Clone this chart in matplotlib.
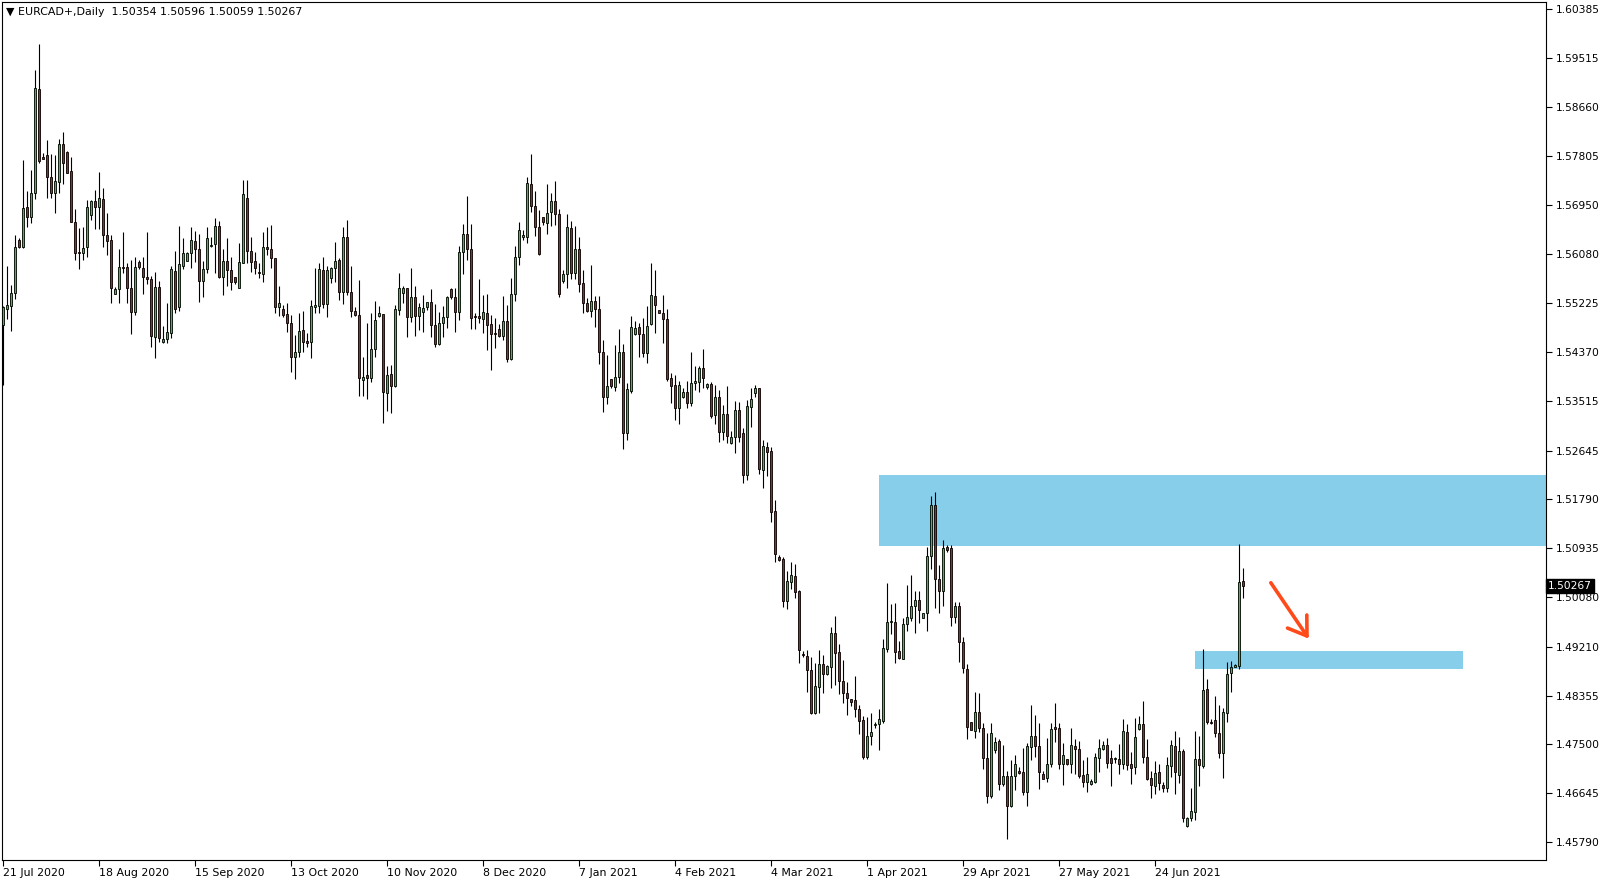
import matplotlib
matplotlib.use('Agg')
import matplotlib.pyplot as plt
from matplotlib.patches import Rectangle
import matplotlib.transforms as mtransforms

# daily EURCAD candles, 21 Jul 2020 -> early Jul 2021
opens = [
    1.5484, 1.5512, 1.5518, 1.5540, 1.5633, 1.5621, 1.5691, 1.5673, 1.5716, 1.5898,
    1.5778, 1.5782, 1.5743, 1.5716, 1.5735, 1.5801, 1.5787, 1.5754, 1.5665, 1.5612,
    1.5610, 1.5621, 1.5677, 1.5701, 1.5691, 1.5705, 1.5642, 1.5633, 1.5539, 1.5547,
    1.5586, 1.5586, 1.5549, 1.5507, 1.5595, 1.5584, 1.5568, 1.5565, 1.5463, 1.5551,
    1.5455, 1.5460, 1.5470, 1.5579, 1.5516, 1.5588, 1.5596, 1.5610, 1.5631, 1.5617,
    1.5561, 1.5582, 1.5623, 1.5626, 1.5658, 1.5568, 1.5596, 1.5581, 1.5568, 1.5549,
    1.5593, 1.5707, 1.5614, 1.5596, 1.5577, 1.5574, 1.5621, 1.5617, 1.5602, 1.5516,
    1.5512, 1.5504, 1.5488, 1.5428, 1.5437, 1.5476, 1.5456, 1.5455, 1.5516, 1.5518,
    1.5581, 1.5521, 1.5567, 1.5584, 1.5598, 1.5542, 1.5638, 1.5542, 1.5509, 1.5502,
    1.5388, 1.5397, 1.5392, 1.5442, 1.5500, 1.5504, 1.5365, 1.5399, 1.5378, 1.5511,
    1.5540, 1.5549, 1.5498, 1.5533, 1.5500, 1.5507, 1.5516, 1.5525, 1.5484, 1.5451,
    1.5488, 1.5498, 1.5547, 1.5533, 1.5507, 1.5612, 1.5644, 1.5617, 1.5500, 1.5500,
    1.5495, 1.5505, 1.5486, 1.5470, 1.5477, 1.5465, 1.5491, 1.5425, 1.5539, 1.5603,
    1.5638, 1.5638, 1.5731, 1.5693, 1.5656, 1.5673, 1.5663, 1.5682, 1.5701, 1.5679,
    1.5561, 1.5574, 1.5654, 1.5575, 1.5617, 1.5558, 1.5523, 1.5509, 1.5526, 1.5512,
    1.5437, 1.5358, 1.5390, 1.5376, 1.5393, 1.5437, 1.5295, 1.5369, 1.5469, 1.5481,
    1.5469, 1.5435, 1.5486, 1.5535, 1.5511, 1.5505, 1.5495, 1.5392, 1.5379, 1.5339,
    1.5358, 1.5367, 1.5348, 1.5383, 1.5385, 1.5409, 1.5376, 1.5381, 1.5327, 1.5358,
    1.5297, 1.5328, 1.5278, 1.5288, 1.5335, 1.5295, 1.5222, 1.5341, 1.5365, 1.5374,
    1.5230, 1.5271, 1.5264, 1.5159, 1.5078, 1.5075, 1.5001, 1.5034, 1.5045, 1.5019,
    1.4908, 1.4905, 1.4880, 1.4805, 1.4850, 1.4891, 1.4873, 1.4885, 1.4945, 1.4912,
    1.4861, 1.4840, 1.4829, 1.4828, 1.4812, 1.4793, 1.4728, 1.4765, 1.4784, 1.4786,
    1.4791, 1.4917, 1.4964, 1.4964, 1.4913, 1.4900, 1.4961, 1.4971, 1.4992, 1.5003,
    1.4971, 1.4980, 1.5080, 1.5169, 1.5040, 1.5019, 1.5096, 1.5094, 1.4973, 1.4992,
    1.4929, 1.4882, 1.4789, 1.4773, 1.4807, 1.4779, 1.4726, 1.4660, 1.4740, 1.4756,
    1.4681, 1.4695, 1.4642, 1.4695, 1.4703, 1.4702, 1.4667, 1.4745, 1.4765, 1.4747,
    1.4698, 1.4691, 1.4716, 1.4780, 1.4779, 1.4716, 1.4724, 1.4716, 1.4747, 1.4742,
    1.4696, 1.4684, 1.4681, 1.4684, 1.4726, 1.4742, 1.4749, 1.4726, 1.4724, 1.4724,
    1.4716, 1.4772, 1.4716, 1.4710, 1.4777, 1.4786, 1.4728, 1.4691, 1.4677, 1.4702,
    1.4679, 1.4674, 1.4712, 1.4747, 1.4696, 1.4738, 1.4607, 1.4621, 1.4632, 1.4724,
    1.4712, 1.4847, 1.4789, 1.4793, 1.4770, 1.4735, 1.4805, 1.4875, 1.4885, 1.4888,
    1.50354,
]
highs = [
    1.5518, 1.5588, 1.5554, 1.5642, 1.5637, 1.5773, 1.5719, 1.5756, 1.5931, 1.5976,
    1.5786, 1.5808, 1.5784, 1.5782, 1.5810, 1.5822, 1.5789, 1.5778, 1.5687, 1.5654,
    1.5656, 1.5703, 1.5703, 1.5721, 1.5752, 1.5724, 1.5680, 1.5642, 1.5551, 1.5617,
    1.5647, 1.5593, 1.5598, 1.5603, 1.5598, 1.5603, 1.5647, 1.5570, 1.5577, 1.5561,
    1.5483, 1.5523, 1.5588, 1.5614, 1.5658, 1.5637, 1.5612, 1.5656, 1.5649, 1.5644,
    1.5596, 1.5656, 1.5638, 1.5672, 1.5666, 1.5617, 1.5637, 1.5603, 1.5568, 1.5628,
    1.5738, 1.5738, 1.5638, 1.5612, 1.5593, 1.5647, 1.5656, 1.5659, 1.5602, 1.5553,
    1.5519, 1.5523, 1.5502, 1.5467, 1.5505, 1.5509, 1.5470, 1.5528, 1.5584, 1.5593,
    1.5603, 1.5588, 1.5586, 1.5630, 1.5602, 1.5656, 1.5668, 1.5588, 1.5516, 1.5563,
    1.5428, 1.5488, 1.5505, 1.5526, 1.5518, 1.5504, 1.5413, 1.5414, 1.5519, 1.5575,
    1.5553, 1.5549, 1.5584, 1.5553, 1.5523, 1.5537, 1.5525, 1.5547, 1.5521, 1.5507,
    1.5518, 1.5535, 1.5549, 1.5549, 1.5623, 1.5661, 1.5710, 1.5661, 1.5505, 1.5565,
    1.5537, 1.5539, 1.5502, 1.5497, 1.5486, 1.5535, 1.5519, 1.5567, 1.5623, 1.5665,
    1.5651, 1.5743, 1.5784, 1.5719, 1.5686, 1.5673, 1.5731, 1.5716, 1.5737, 1.5687,
    1.5581, 1.5679, 1.5666, 1.5658, 1.5638, 1.5581, 1.5532, 1.5589, 1.5535, 1.5535,
    1.5458, 1.5432, 1.5390, 1.5449, 1.5477, 1.5451, 1.5383, 1.5500, 1.5491, 1.5488,
    1.5497, 1.5518, 1.5593, 1.5581, 1.5511, 1.5537, 1.5512, 1.5400, 1.5397, 1.5386,
    1.5374, 1.5386, 1.5437, 1.5413, 1.5413, 1.5442, 1.5383, 1.5385, 1.5379, 1.5370,
    1.5344, 1.5377, 1.5299, 1.5351, 1.5349, 1.5304, 1.5353, 1.5374, 1.5379, 1.5374,
    1.5283, 1.5280, 1.5271, 1.5178, 1.5082, 1.5078, 1.5054, 1.5069, 1.5066, 1.5020,
    1.4913, 1.4915, 1.4903, 1.4892, 1.4915, 1.4906, 1.4889, 1.4955, 1.4975, 1.4926,
    1.4898, 1.4859, 1.4829, 1.4870, 1.4819, 1.4800, 1.4798, 1.4805, 1.4789, 1.4812,
    1.4935, 1.5033, 1.4996, 1.4998, 1.4931, 1.4971, 1.5029, 1.5047, 1.5019, 1.5019,
    1.4980, 1.5096, 1.5185, 1.5192, 1.5064, 1.5108, 1.5099, 1.5099, 1.4999, 1.4999,
    1.4938, 1.4891, 1.4789, 1.4842, 1.4840, 1.4787, 1.4770, 1.4787, 1.4763, 1.4759,
    1.4749, 1.4703, 1.4723, 1.4731, 1.4710, 1.4744, 1.4752, 1.4819, 1.4801, 1.4787,
    1.4703, 1.4761, 1.4787, 1.4822, 1.4787, 1.4752, 1.4724, 1.4779, 1.4759, 1.4756,
    1.4723, 1.4728, 1.4689, 1.4735, 1.4759, 1.4756, 1.4761, 1.4740, 1.4728, 1.4751,
    1.4794, 1.4786, 1.4737, 1.4796, 1.4800, 1.4826, 1.4759, 1.4703, 1.4721, 1.4716,
    1.4684, 1.4728, 1.4758, 1.4773, 1.4763, 1.4742, 1.4623, 1.4674, 1.4773, 1.4765,
    1.4917, 1.4865, 1.4794, 1.4835, 1.4819, 1.4814, 1.4894, 1.4896, 1.4891, 1.5101,
    1.50596,
]
lows = [
    1.5379, 1.5495, 1.5474, 1.5530, 1.5619, 1.5619, 1.5656, 1.5663, 1.5705, 1.5768,
    1.5775, 1.5707, 1.5707, 1.5680, 1.5716, 1.5731, 1.5750, 1.5664, 1.5598, 1.5582,
    1.5598, 1.5603, 1.5668, 1.5652, 1.5652, 1.5621, 1.5607, 1.5523, 1.5538, 1.5523,
    1.5575, 1.5523, 1.5469, 1.5502, 1.5582, 1.5539, 1.5556, 1.5446, 1.5427, 1.5455,
    1.5453, 1.5453, 1.5462, 1.5505, 1.5509, 1.5582, 1.5596, 1.5584, 1.5595, 1.5525,
    1.5533, 1.5575, 1.5621, 1.5575, 1.5567, 1.5537, 1.5553, 1.5546, 1.5556, 1.5549,
    1.5593, 1.5593, 1.5577, 1.5574, 1.5567, 1.5560, 1.5607, 1.5584, 1.5505, 1.5500,
    1.5498, 1.5472, 1.5402, 1.5390, 1.5428, 1.5437, 1.5446, 1.5427, 1.5505, 1.5505,
    1.5514, 1.5498, 1.5558, 1.5560, 1.5528, 1.5521, 1.5537, 1.5498, 1.5500, 1.5360,
    1.5360, 1.5355, 1.5385, 1.5428, 1.5498, 1.5313, 1.5334, 1.5330, 1.5376, 1.5502,
    1.5523, 1.5463, 1.5490, 1.5465, 1.5476, 1.5472, 1.5511, 1.5463, 1.5446, 1.5449,
    1.5463, 1.5479, 1.5530, 1.5472, 1.5493, 1.5574, 1.5598, 1.5477, 1.5477, 1.5488,
    1.5470, 1.5441, 1.5406, 1.5444, 1.5463, 1.5458, 1.5420, 1.5423, 1.5526, 1.5589,
    1.5633, 1.5628, 1.5682, 1.5640, 1.5607, 1.5659, 1.5644, 1.5658, 1.5659, 1.5533,
    1.5558, 1.5549, 1.5565, 1.5565, 1.5542, 1.5505, 1.5507, 1.5498, 1.5481, 1.5416,
    1.5332, 1.5346, 1.5374, 1.5369, 1.5383, 1.5267, 1.5283, 1.5365, 1.5467, 1.5428,
    1.5428, 1.5418, 1.5484, 1.5470, 1.5505, 1.5453, 1.5386, 1.5348, 1.5318, 1.5311,
    1.5356, 1.5339, 1.5342, 1.5370, 1.5367, 1.5374, 1.5372, 1.5321, 1.5311, 1.5279,
    1.5283, 1.5278, 1.5276, 1.5260, 1.5279, 1.5208, 1.5213, 1.5306, 1.5358, 1.5223,
    1.5199, 1.5220, 1.5139, 1.5069, 1.5071, 1.4991, 1.4987, 1.5022, 1.5006, 1.4892,
    1.4903, 1.4842, 1.4803, 1.4803, 1.4805, 1.4840, 1.4871, 1.4849, 1.4854, 1.4838,
    1.4822, 1.4801, 1.4817, 1.4798, 1.4768, 1.4724, 1.4724, 1.4749, 1.4779, 1.4740,
    1.4787, 1.4912, 1.4943, 1.4892, 1.4900, 1.4899, 1.4949, 1.4966, 1.4945, 1.4963,
    1.4971, 1.4949, 1.5057, 1.4989, 1.4980, 1.4992, 1.5087, 1.4957, 1.4963, 1.4894,
    1.4875, 1.4759, 1.4775, 1.4761, 1.4772, 1.4707, 1.4647, 1.4656, 1.4735, 1.4670,
    1.4677, 1.4584, 1.4640, 1.4670, 1.4698, 1.4661, 1.4642, 1.4723, 1.4728, 1.4672,
    1.4689, 1.4684, 1.4710, 1.4754, 1.4707, 1.4679, 1.4714, 1.4700, 1.4698, 1.4691,
    1.4675, 1.4667, 1.4679, 1.4682, 1.4702, 1.4740, 1.4709, 1.4677, 1.4717, 1.4698,
    1.4707, 1.4705, 1.4681, 1.4698, 1.4775, 1.4717, 1.4688, 1.4656, 1.4663, 1.4670,
    1.4667, 1.4667, 1.4693, 1.4663, 1.4682, 1.4614, 1.4605, 1.4616, 1.4618, 1.4677,
    1.4709, 1.4786, 1.4786, 1.4763, 1.4726, 1.4691, 1.4789, 1.4842, 1.4885, 1.4882,
    1.50059,
]
closes = [
    1.5516, 1.5519, 1.5540, 1.5621, 1.5621, 1.5689, 1.5673, 1.5716, 1.5899, 1.5771,
    1.5775, 1.5743, 1.5716, 1.5736, 1.5801, 1.5768, 1.5750, 1.5665, 1.5610, 1.5610,
    1.5619, 1.5691, 1.5701, 1.5691, 1.5707, 1.5642, 1.5631, 1.5549, 1.5547, 1.5586,
    1.5584, 1.5549, 1.5507, 1.5586, 1.5586, 1.5568, 1.5565, 1.5465, 1.5551, 1.5462,
    1.5460, 1.5472, 1.5582, 1.5512, 1.5591, 1.5610, 1.5610, 1.5633, 1.5617, 1.5561,
    1.5582, 1.5637, 1.5624, 1.5658, 1.5568, 1.5596, 1.5581, 1.5560, 1.5560, 1.5595,
    1.5714, 1.5614, 1.5595, 1.5584, 1.5575, 1.5621, 1.5617, 1.5602, 1.5516, 1.5523,
    1.5502, 1.5488, 1.5428, 1.5437, 1.5474, 1.5455, 1.5453, 1.5518, 1.5519, 1.5582,
    1.5521, 1.5581, 1.5584, 1.5596, 1.5542, 1.5638, 1.5542, 1.5509, 1.5502, 1.5392,
    1.5393, 1.5392, 1.5442, 1.5493, 1.5505, 1.5367, 1.5397, 1.5378, 1.5512, 1.5549,
    1.5549, 1.5498, 1.5533, 1.5500, 1.5516, 1.5514, 1.5525, 1.5484, 1.5451, 1.5488,
    1.5498, 1.5533, 1.5533, 1.5507, 1.5612, 1.5644, 1.5617, 1.5497, 1.5498, 1.5497,
    1.5507, 1.5484, 1.5469, 1.5469, 1.5465, 1.5491, 1.5425, 1.5539, 1.5603, 1.5651,
    1.5642, 1.5733, 1.5693, 1.5656, 1.5609, 1.5665, 1.5680, 1.5701, 1.5679, 1.5539,
    1.5574, 1.5656, 1.5575, 1.5617, 1.5556, 1.5523, 1.5509, 1.5526, 1.5512, 1.5437,
    1.5358, 1.5377, 1.5377, 1.5393, 1.5437, 1.5295, 1.5372, 1.5481, 1.5479, 1.5469,
    1.5435, 1.5483, 1.5537, 1.5519, 1.5505, 1.5495, 1.5390, 1.5378, 1.5339, 1.5379,
    1.5367, 1.5348, 1.5383, 1.5386, 1.5409, 1.5392, 1.5381, 1.5325, 1.5358, 1.5297,
    1.5328, 1.5290, 1.5288, 1.5335, 1.5288, 1.5222, 1.5342, 1.5355, 1.5374, 1.5232,
    1.5272, 1.5262, 1.5157, 1.5083, 1.5073, 1.5001, 1.5036, 1.5047, 1.5017, 1.4915,
    1.4906, 1.4880, 1.4805, 1.4852, 1.4891, 1.4873, 1.4887, 1.4945, 1.4910, 1.4861,
    1.4840, 1.4831, 1.4824, 1.4812, 1.4791, 1.4728, 1.4765, 1.4772, 1.4786, 1.4794,
    1.4919, 1.4964, 1.4966, 1.4912, 1.4901, 1.4961, 1.4973, 1.4992, 1.5003, 1.4985,
    1.4980, 1.5080, 1.5169, 1.5040, 1.5019, 1.5094, 1.5090, 1.4973, 1.4992, 1.4929,
    1.4884, 1.4780, 1.4775, 1.4807, 1.4779, 1.4726, 1.4660, 1.4770, 1.4754, 1.4681,
    1.4695, 1.4642, 1.4695, 1.4716, 1.4700, 1.4667, 1.4747, 1.4765, 1.4747, 1.4702,
    1.4689, 1.4716, 1.4777, 1.4777, 1.4716, 1.4731, 1.4716, 1.4749, 1.4742, 1.4695,
    1.4684, 1.4698, 1.4686, 1.4728, 1.4744, 1.4749, 1.4717, 1.4717, 1.4726, 1.4716,
    1.4773, 1.4714, 1.4709, 1.4763, 1.4786, 1.4728, 1.4689, 1.4679, 1.4700, 1.4682,
    1.4674, 1.4714, 1.4749, 1.4702, 1.4738, 1.4621, 1.4621, 1.4633, 1.4724, 1.4714,
    1.4845, 1.4789, 1.4787, 1.4770, 1.4735, 1.4807, 1.4873, 1.4885, 1.4889, 1.5035,
    1.50267,
]

date_labels = ['21 Jul 2020', '18 Aug 2020', '15 Sep 2020', '13 Oct 2020', '10 Nov 2020',
               '8 Dec 2020', '7 Jan 2021', '4 Feb 2021', '4 Mar 2021', '1 Apr 2021',
               '29 Apr 2021', '27 May 2021', '24 Jun 2021']
bars_per_label = 24

price_ticks = [1.60385, 1.59515, 1.58660, 1.57805, 1.56950, 1.56080, 1.55225, 1.54370,
               1.53515, 1.52645, 1.51790, 1.50935, 1.50080, 1.49210, 1.48355, 1.47500,
               1.46645, 1.45790]

# supply / target zones drawn on the chart (start bar, end bar, low, high)
upper_zone = (218.9, 400, 1.50973, 1.52217)
lower_zone = (297.9, 364.9, 1.48820, 1.49135)
arrow_from = (316.9, 1.5033)
arrow_to = (326.4, 1.4935)

title = '\u25BC EURCAD+,Daily  1.50354 1.50596 1.50059 1.50267'
last_price = 1.50267

bull = '#22d422'
bear = '#d41414'
zone_color = '#87ceeb'

W, H = 1610, 884
fig = plt.figure(figsize=(W / 100, H / 100), dpi=100)
ax = fig.add_axes([2 / W, 24 / H, 1544 / W, 858 / H])

n = len(opens)
xs = list(range(n))
bottoms = [min(o, c) for o, c in zip(opens, closes)]
heights = [abs(c - o) for o, c in zip(opens, closes)]
colors = [bull if c >= o else bear for o, c in zip(opens, closes)]

ax.vlines(xs, lows, highs, color='black', linewidth=0.8, zorder=2)
ax.bar(xs, heights, bottom=bottoms, width=0.6, color=colors,
       edgecolor='black', linewidth=0.6, zorder=3)

for x0, x1, y0, y1 in (upper_zone, lower_zone):
    ax.add_patch(Rectangle((x0, y0), x1 - x0, y1 - y0, facecolor=zone_color,
                           edgecolor='none', zorder=1))

ax.annotate('', xy=arrow_to, xytext=arrow_from,
            arrowprops=dict(arrowstyle='->,head_length=0.9,head_width=0.6',
                            color='#ff4a1a', lw=2.6, mutation_scale=14,
                            shrinkA=0, shrinkB=0), zorder=5)

ax.set_xlim(-0.325, 385.7)
ax.set_ylim(1.45475, 1.60499)

ax.yaxis.tick_right()
ax.set_yticks(price_ticks)
ax.set_yticklabels([f'{p:.5f}' for p in price_ticks])
ax.tick_params(axis='y', direction='out', length=4, width=0.8, pad=3,
               labelsize=7.7, colors='black')

ax.set_xticks([i * bars_per_label for i in range(len(date_labels))])
ax.set_xticklabels(date_labels, ha='left')
ax.tick_params(axis='x', direction='out', length=4, width=0.8, pad=2, labelsize=7.9)

for s in ax.spines.values():
    s.set_linewidth(0.8)
    s.set_color('black')

# current price tag on the price scale
trans = mtransforms.blended_transform_factory(ax.transAxes, ax.transData)
ax.text(1.0015, last_price, f'{last_price:.5f}', transform=trans, ha='left', va='center',
        fontsize=7.7, color='white', zorder=6, clip_on=False,
        bbox=dict(boxstyle='square,pad=0.18', facecolor='black', edgecolor='black'))

fig.text(6 / W, 1 - 12 / H, title, fontsize=7.9, va='center', ha='left')

fig.savefig('out.png', dpi=100, facecolor='white')
